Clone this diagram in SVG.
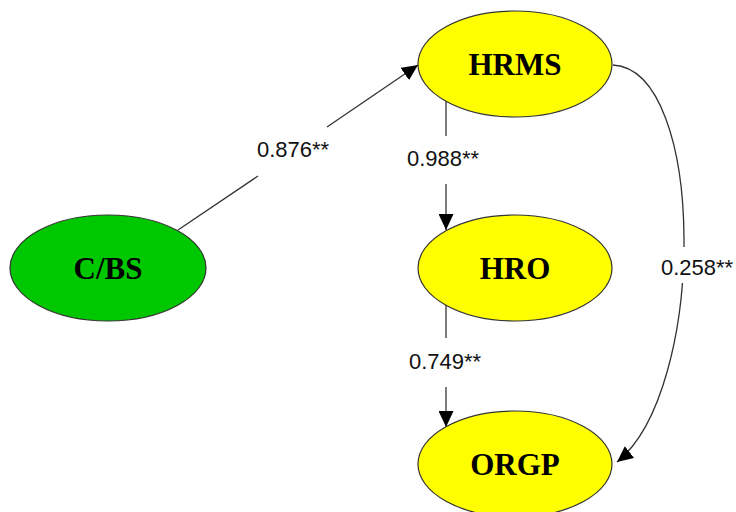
<svg xmlns="http://www.w3.org/2000/svg" width="736" height="512" viewBox="0 0 736 512">
  <style>
    .node { stroke: #333333; stroke-width: 1.2; }
    .yellow { fill: #FFFF00; }
    .green { fill: #00C800; }
    .nlabel { font-family: "Liberation Serif", "Times New Roman", serif; font-weight: bold; font-size: 31px; fill: #000; text-anchor: middle; }
    .edge { fill: none; stroke: #333333; stroke-width: 1.3; }
    .elabel { font-family: "Liberation Sans", Arial, sans-serif; font-size: 22px; fill: #111; }
  </style>
  <defs>
    <marker id="arrow" markerUnits="userSpaceOnUse" markerWidth="16" markerHeight="15" refX="16" refY="7.5" orient="auto">
      <path d="M0,0 L16,7.5 L0,15 z" fill="#000"/>
    </marker>
  </defs>

  <g id="connectors">
    <!-- C/BS to HRMS, split around its label -->
    <line class="edge" x1="178" y1="230" x2="258" y2="176"/>
    <line class="edge" x1="327" y1="127" x2="418" y2="65" marker-end="url(#arrow)"/>
    <!-- HRMS to HRO -->
    <line class="edge" x1="446" y1="100" x2="446" y2="136"/>
    <line class="edge" x1="446" y1="184" x2="446" y2="230" marker-end="url(#arrow)"/>
    <!-- HRO to ORGP -->
    <line class="edge" x1="446" y1="305" x2="446" y2="338"/>
    <line class="edge" x1="446" y1="387" x2="446" y2="427" marker-end="url(#arrow)"/>
    <!-- HRMS to ORGP, curved -->
    <path class="edge" d="M613,65 C707,70 707,390 617,462" marker-end="url(#arrow)"/>
    <rect x="658" y="247" width="78" height="36" fill="#fff"/>
  </g>

  <g id="labels">
    <text class="elabel" x="257" y="157">0.876**</text>
    <text class="elabel" x="407" y="166">0.988**</text>
    <text class="elabel" x="409" y="369">0.749**</text>
    <text class="elabel" x="661" y="275">0.258**</text>
  </g>

  <g id="node-cbs">
    <ellipse class="node green" cx="108" cy="268" rx="98" ry="53"/>
    <text class="nlabel" x="108" y="279">C/BS</text>
  </g>
  <g id="node-hrms">
    <ellipse class="node yellow" cx="515" cy="64" rx="97" ry="53"/>
    <text class="nlabel" x="515" y="75">HRMS</text>
  </g>
  <g id="node-hro">
    <ellipse class="node yellow" cx="515" cy="268" rx="97" ry="53"/>
    <text class="nlabel" x="515" y="279">HRO</text>
  </g>
  <g id="node-orgp">
    <ellipse class="node yellow" cx="515" cy="464" rx="97" ry="53"/>
    <text class="nlabel" x="515" y="475">ORGP</text>
  </g>
</svg>
